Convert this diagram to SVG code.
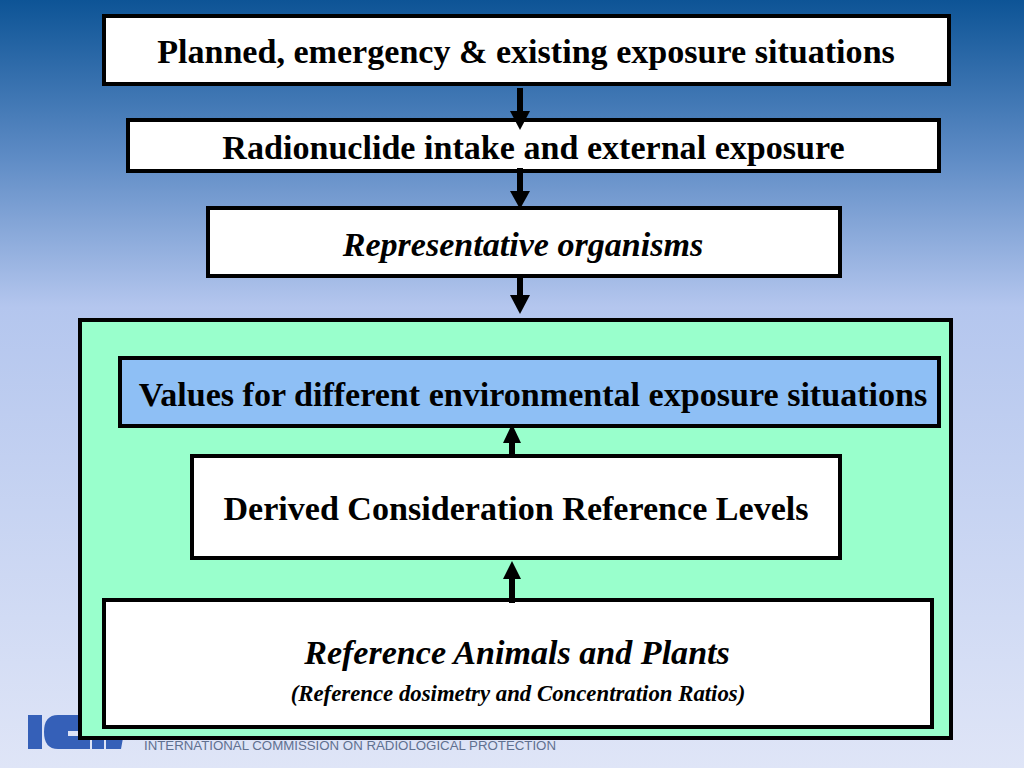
<svg xmlns="http://www.w3.org/2000/svg" width="1024" height="768" viewBox="0 0 1024 768">
<style>
.b{stroke:#000;stroke-width:4;fill:#fff}
.t{font-family:"Liberation Serif",serif;font-weight:bold;fill:#000;text-anchor:middle}
.i{font-style:italic}
.c{stroke:#000;stroke-width:6;fill:none}
.h{fill:#000;stroke:none}
</style>
<defs>
<linearGradient id="bg" x1="0" y1="0" x2="0" y2="1">
<stop offset="0" stop-color="#0d5496"/>
<stop offset="0.2" stop-color="#5c8ac4"/>
<stop offset="0.4" stop-color="#b4c6ee"/>
<stop offset="1" stop-color="#dfe5f7"/>
</linearGradient>
</defs>
<rect id="background" width="1024" height="768" fill="url(#bg)"/>
<g id="logo">
<rect x="28" y="715" width="14" height="34" fill="#3560b8"/>
<path d="M84 715H58Q44 715 44 732Q44 749 58 749H84V736H68V731H84Z" fill="#3560b8"/>
<path d="M78 738H90V749H78ZM92 738H104V749H92ZM106 738H123L121 749H106Z" fill="#3560b8"/>
<text x="350" y="750" font-family="'Liberation Sans',sans-serif" font-size="13.4" fill="#5f7090" text-anchor="middle" textLength="412" lengthAdjust="spacingAndGlyphs">INTERNATIONAL COMMISSION ON RADIOLOGICAL PROTECTION</text>
</g>
<g id="container"><rect x="80" y="320" width="871" height="418" fill="#99ffcc" stroke="#000" stroke-width="4"/></g>
<g id="node1"><rect class="b" x="104" y="16" width="845" height="68"/><text class="t" x="526" y="62.5" font-size="34.1">Planned, emergency &amp; existing exposure situations</text></g>
<g id="node2"><rect class="b" x="128" y="120" width="811" height="51"/><text class="t" x="533.5" y="158.5" font-size="34.1">Radionuclide intake and external exposure</text></g>
<g id="node3"><rect class="b" x="208" y="208" width="632" height="68"/><text class="t i" x="523" y="255.5" font-size="34.1">Representative organisms</text></g>
<g id="node4"><rect class="b" x="120" y="358" width="819" height="68" style="fill:#8ebff5"/><text class="t" x="533" y="405.5" font-size="34.1">Values for different environmental exposure situations</text></g>
<g id="node5"><rect class="b" x="192" y="456" width="648" height="102"/><text class="t" x="516" y="519.5" font-size="34.1">Derived Consideration Reference Levels</text></g>
<g id="node6"><rect class="b" x="104" y="600" width="828" height="127"/><text class="t i" x="517" y="663.5" font-size="34.1">Reference Animals and Plants</text><text class="t i" x="518" y="701" font-size="22.8">(Reference dosimetry and Concentration Ratios)</text></g>
<g id="connectors">
<path class="c" d="M520 88V112"/><path class="h" d="M510 111H530L520 130Z"/>
<path class="c" d="M520 168V192"/><path class="h" d="M510 191H530L520 209Z"/>
<path class="c" d="M520 278V296"/><path class="h" d="M510 295H530L520 314Z"/>
<path class="c" d="M512 456V442"/><path class="h" d="M503 443H521L512 424Z"/>
<path class="c" d="M512 603V578"/><path class="h" d="M503 579H521L512 561Z"/>
</g>
</svg>
